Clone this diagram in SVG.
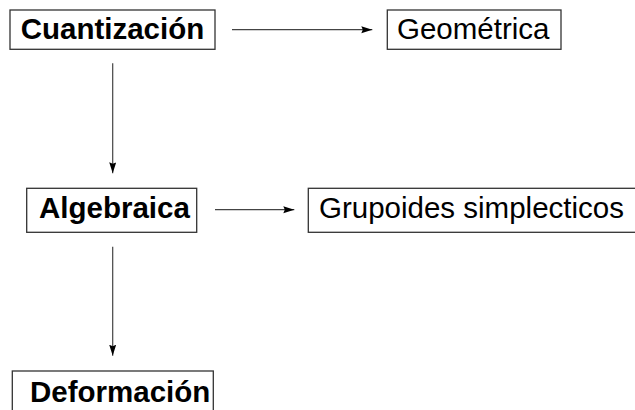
<svg xmlns="http://www.w3.org/2000/svg" width="635" height="410" viewBox="0 0 635 410">
<defs>
<marker id="ah" markerUnits="userSpaceOnUse" markerWidth="12" markerHeight="8" refX="11" refY="3.5" orient="auto">
<path d="M0,0 L11,3.5 L0,7 L1.5,3.5 Z" fill="#000"/>
</marker>
<style>
.box{fill:#fff;stroke:#333;stroke-width:1.3}
.b{font-family:"Liberation Sans",Arial,sans-serif;font-weight:bold;font-size:29.5px;fill:#000}
.r{font-family:"Liberation Sans",Arial,sans-serif;font-size:29.5px;fill:#000}
.c{stroke:#444;stroke-width:1.2;fill:none;marker-end:url(#ah)}
</style>
</defs>
<rect width="635" height="410" fill="#fff"/>
<g id="connectors">
<line class="c" x1="232" y1="29.7" x2="372.3" y2="29.7"/>
<line class="c" x1="215" y1="209.7" x2="294.3" y2="209.7"/>
<line class="c" x1="112.7" y1="63.3" x2="112.7" y2="173.3"/>
<line class="c" x1="112.7" y1="246.7" x2="112.7" y2="355.7"/>
</g>
<g id="cuantizacion">
<rect class="box" x="10" y="10" width="205" height="39.3"/>
<text class="b" x="20.7" y="38.8">Cuantización</text>
</g>
<g id="geometrica">
<rect class="box" x="387.3" y="10" width="173.7" height="39.3"/>
<text class="r" x="397" y="38.8">Geométrica</text>
</g>
<g id="algebraica">
<rect class="box" x="26.7" y="188.3" width="170" height="44"/>
<text class="b" x="39" y="217.5">Algebraica</text>
</g>
<g id="grupoides">
<rect class="box" x="308.3" y="188.3" width="340" height="44"/>
<text class="r" x="319" y="217.5">Grupoides simplecticos</text>
</g>
<g id="deformacion">
<rect class="box" x="12.3" y="371" width="201" height="50"/>
<text class="b" x="30" y="401.7">Deformación</text>
</g>
</svg>
